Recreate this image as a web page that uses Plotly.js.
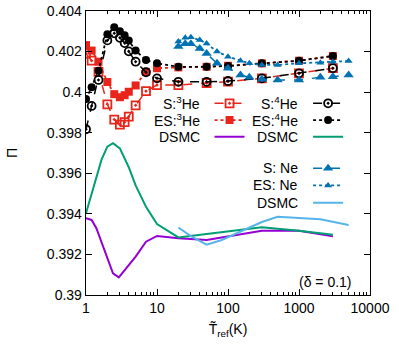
<!DOCTYPE html>
<html>
<head>
<meta charset="utf-8">
<script src="https://cdn.plot.ly/plotly-3.0.1.min.js"></script>
<style>html,body{margin:0;padding:0;background:#fff;}#chart{width:399px;height:345px;}</style>
</head>
<body>
<div id="chart"></div>
<script>
// Helium data (T_ref in K)
const T_He = [1, 1.2, 1.5, 2, 2.5, 3, 3.5, 4, 5, 7, 10, 20, 50, 100, 300, 1000, 3000];
const S_3He  = [0.40190, 0.40155, 0.40100, 0.39940, 0.39865, 0.39840, 0.39852, 0.39879, 0.39935, 0.40005, 0.40035, 0.40035, 0.40045, 0.40052, 0.40068, 0.40093, 0.40118];
const ES_3He = [0.40232, 0.40205, 0.40150, 0.40050, 0.39990, 0.39975, 0.39985, 0.40002, 0.40033, 0.40100, 0.40118, 0.40122, 0.40125, 0.40130, 0.40142, 0.40155, 0.40178];
const S_4He  = [0.39817, 0.39932, 0.40060, 0.40255, 0.40290, 0.40268, 0.40242, 0.40201, 0.40150, 0.40098, 0.40068, 0.40051, 0.40051, 0.40055, 0.40068, 0.40093, 0.40118];
const ES_4He = [0.39966, 0.40024, 0.40106, 0.40285, 0.40320, 0.40300, 0.40280, 0.40255, 0.40205, 0.40158, 0.40142, 0.40125, 0.40125, 0.40129, 0.40142, 0.40155, 0.40178];

const T_DSMC_3He = [1, 1.2, 1.4, 2.4, 2.9, 3.7, 5, 7, 10, 20, 50, 300, 1000, 3000];
const DSMC_3He   = [0.39378, 0.39370, 0.39329, 0.39107, 0.39087, 0.39132, 0.39189, 0.39263, 0.39291, 0.39280, 0.39271, 0.39317, 0.39317, 0.39289];
const T_DSMC_4He = [1, 1.4, 1.65, 2, 2.4, 3, 4, 5, 7, 10, 20, 50, 300, 1000, 3000];
const DSMC_4He   = [0.39403, 0.39583, 0.39666, 0.39731, 0.39748, 0.39723, 0.39630, 0.39540, 0.39435, 0.39350, 0.39284, 0.39301, 0.39334, 0.39317, 0.39297];

// Neon data
const T_Ne  = [20, 25, 30, 40, 50, 70, 100, 150, 200, 300, 500, 1000, 2000, 3000, 5000];
const S_Ne  = [0.40225, 0.40238, 0.40238, 0.40215, 0.40190, 0.40142, 0.40118, 0.40085, 0.40073, 0.40063, 0.40060, 0.40060, 0.40073, 0.40076, 0.40085];
const ES_Ne = [0.40250, 0.40268, 0.40270, 0.40257, 0.40240, 0.40200, 0.40175, 0.40155, 0.40142, 0.40134, 0.40134, 0.40142, 0.40145, 0.40150, 0.40153];
const T_DSMC_Ne = [20, 30, 50, 80, 300, 500, 2000, 5000];
const DSMC_Ne   = [0.39333, 0.39290, 0.39248, 0.39270, 0.39360, 0.39386, 0.39373, 0.39345];

// Axis ticks
const yTickVals = [0.39, 0.392, 0.394, 0.396, 0.398, 0.4, 0.402, 0.404];
const yTickText = ['0.39', '0.392', '0.394', '0.396', '0.398', '0.4', '0.402', '0.404'];
const xTickVals = [1, 10, 100, 1000, 10000];
const xTickText = ['1', '10', '100', '1000', '10000'];

// Legend labels
const seriesNames = ['S:<sup>3</sup>He', 'ES:<sup>3</sup>He', 'DSMC', 'S:<sup>4</sup>He', 'ES:<sup>4</sup>He', 'DSMC', 'S: Ne', 'ES: Ne', 'DSMC'];

const RED = '#e8251a', BLACK = '#000000', BLUE = '#0072b2', PURPLE = '#9400d3', GREEN = '#009e73', LBLUE = '#56b4e9';
const FONT = 'Liberation Sans, Arial, sans-serif';
const FS = 14;

const xMinor = [];
for (let d = 1; d < 10000; d *= 10) for (let k = 2; k <= 9; k++) xMinor.push(d * k);

const traces = [
  {x: T_He, y: S_3He, mode: 'lines+markers',
   line: {color: RED, dash: 'dash', width: 1.5}, marker: {symbol: 'square-open-dot', size: 8, color: RED, line: {width: 1.8, color: RED}}},
  {x: T_He, y: ES_3He, mode: 'lines+markers',
   line: {color: RED, dash: 'dot', width: 1.8}, marker: {symbol: 'square', size: 8, color: RED}},
  {x: T_DSMC_3He, y: DSMC_3He, mode: 'lines',
   line: {color: PURPLE, width: 2}},
  {x: T_He, y: S_4He, mode: 'lines+markers',
   line: {color: BLACK, dash: 'dash', width: 1.5}, marker: {symbol: 'circle-open-dot', size: 8, color: BLACK, line: {width: 1.8, color: BLACK}}},
  {x: T_He, y: ES_4He, mode: 'lines+markers',
   line: {color: BLACK, dash: 'dot', width: 1.8}, marker: {symbol: 'circle', size: 8, color: BLACK}},
  {x: T_DSMC_4He, y: DSMC_4He, mode: 'lines',
   line: {color: GREEN, width: 2}},
  {x: T_Ne, y: S_Ne, mode: 'lines+markers',
   line: {color: BLUE, dash: 'dash', width: 1.5}, marker: {symbol: 'triangle-up', size: 9, color: BLUE}},
  {x: T_Ne, y: ES_Ne, mode: 'lines+markers',
   line: {color: BLUE, dash: 'dot', width: 1.8}, marker: {symbol: 'triangle-up', size: 7, color: BLUE}},
  {x: T_DSMC_Ne, y: DSMC_Ne, mode: 'lines',
   line: {color: LBLUE, width: 2}}
];

// Legend layout: gnuplot style, label on the left, sample on the right
const colSampleX = [0.435, 0.782, 0.782];          // legend box left edge (paper)
const colLabelX  = [0.408, 0.755, 0.755];          // label right edge (paper)
const rowY = [[0.675, 0.616, 0.557], [0.675, 0.616, 0.557], [0.446, 0.386, 0.325]];

const layout = {
  width: 399, height: 345,
  margin: {l: 86, r: 29, t: 11, b: 50},
  paper_bgcolor: '#fff', plot_bgcolor: '#fff',
  font: {family: FONT, size: FS, color: '#000'},
  showlegend: true,
  xaxis: {
    type: 'log', range: [0, 4], tickvals: xTickVals, ticktext: xTickText,
    ticks: 'inside', ticklen: 6, tickcolor: '#000', showline: true, linecolor: '#000', linewidth: 1.3, mirror: 'ticks',
    showgrid: false, zeroline: false, tickfont: {family: FONT, size: FS},
    minor: {tickvals: xMinor, ticks: 'inside', ticklen: 3, tickcolor: '#000', showgrid: false},
    title: {text: 'T\u0303<sub>ref</sub>(K)', font: {family: FONT, size: FS}, standoff: 9}
  },
  yaxis: {
    range: [0.39, 0.404], tickvals: yTickVals, ticktext: yTickText,
    ticks: 'inside', ticklen: 6, tickcolor: '#000', showline: true, linecolor: '#000', linewidth: 1.3, mirror: 'ticks',
    showgrid: false, zeroline: false, tickfont: {family: FONT, size: FS},
    title: {text: '\u03a0', font: {family: FONT, size: FS}, standoff: 26}
  },
  annotations: [{
    xref: 'paper', yref: 'paper', x: 0.945, y: 0.047, xanchor: 'right', yanchor: 'middle',
    text: '(\u03b4 = 0.1)', showarrow: false, font: {family: FONT, size: FS}
  }]
};

traces.forEach((tr, i) => {
  const col = Math.floor(i / 3), row = i % 3;
  const key = i === 0 ? 'legend' : 'legend' + (i + 1);
  tr.name = '';
  tr.hovertext = seriesNames[i];
  tr.legend = key;
  layout[key] = {
    x: colSampleX[col], y: rowY[col][row], xanchor: 'left', yanchor: 'middle',
    bgcolor: 'rgba(0,0,0,0)', borderwidth: 0, itemwidth: 30,
    font: {family: FONT, size: 10, color: '#000'}
  };
  layout.annotations.push({
    xref: 'paper', yref: 'paper', x: colLabelX[col], y: rowY[col][row],
    xanchor: 'right', yanchor: 'middle', showarrow: false,
    text: seriesNames[i], font: {family: FONT, size: FS, color: '#000'}
  });
});

Plotly.newPlot('chart', traces, layout, {displayModeBar: false, staticPlot: true});
</script>
</body>
</html>
